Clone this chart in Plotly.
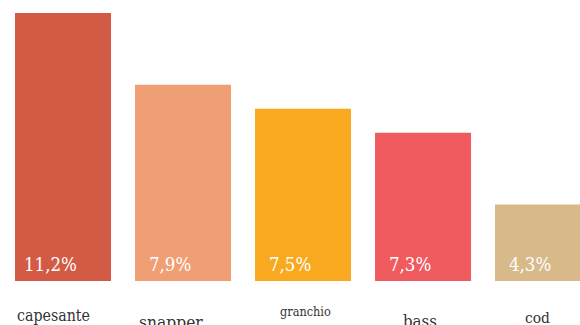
import plotly.graph_objects as go

categories = ["capesante", "snapper", "granchio", "bass", "cod"]
values = [11.2, 7.9, 7.5, 7.3, 4.3]            # labelled percentages
bar_heights = [11.2, 8.2, 7.2, 6.2, 3.2]       # drawn bar heights
value_labels = ["11,2%", "7,9%", "7,5%", "7,3%", "4,3%"]

colors = ["#D35B45", "#F09E74", "#F9A91F", "#F05B5F", "#D8B98A"]
label_sizes = [15.8, 17.3, 12.6, 16.7, 15.4]
label_xshift = [-9.5, -12, 2, -3, -6]
label_yshift = [-23, -29, -21, -28, -26]

FONT = "DejaVu Serif Condensed, Noto Serif, DejaVu Serif, serif"

x = list(range(len(categories)))
fig = go.Figure(go.Bar(x=x, y=bar_heights, marker=dict(color=colors, line=dict(width=0)),
                       hoverinfo="skip"))

annotations = []
for i, (lab, vl) in enumerate(zip(categories, value_labels)):
    annotations.append(dict(x=i, y=0, xref="x", yref="y", text=vl, showarrow=False,
                            xanchor="center", yanchor="bottom", xshift=-13, yshift=4,
                            font=dict(family=FONT, size=18.5, color="white")))
    annotations.append(dict(x=i, y=0, xref="x", yref="paper", text=lab, showarrow=False,
                            xanchor="center", yanchor="top", xshift=label_xshift[i],
                            yshift=label_yshift[i],
                            font=dict(family=FONT, size=label_sizes[i], color="#333333")))

fig.update_layout(
    width=580, height=325,
    margin=dict(l=0, r=0, t=0, b=44),
    paper_bgcolor="white", plot_bgcolor="white",
    bargap=0.2, showlegend=False,
    xaxis=dict(range=[-0.525, 4.308], visible=False),
    yaxis=dict(range=[0, 11.743], visible=False),
    annotations=annotations,
)

fig.write_html("out.html", config={"displayModeBar": False},
               post_script="document.body.style.margin='0';document.body.style.overflow='hidden';")
